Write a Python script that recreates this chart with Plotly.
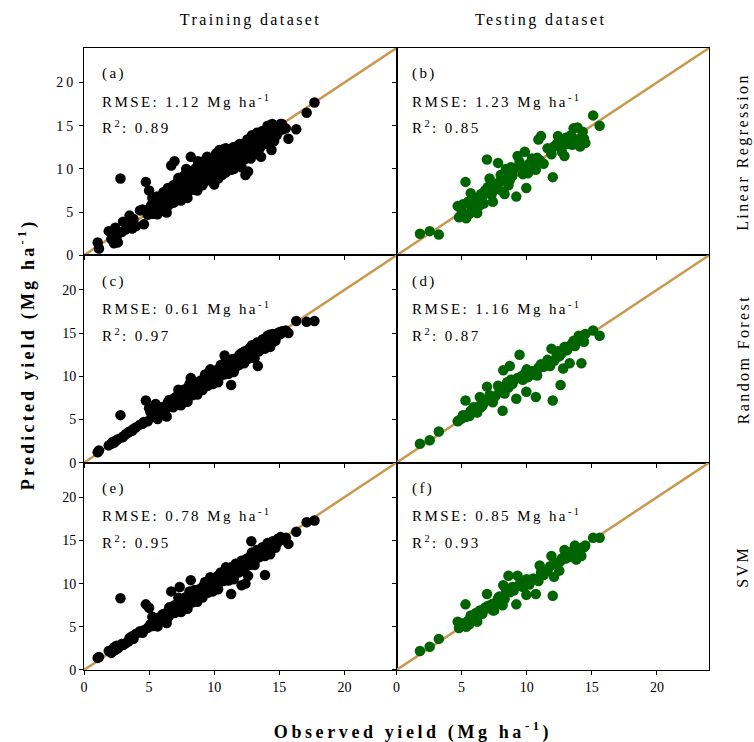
import plotly.graph_objects as go
from plotly.subplots import make_subplots

# ---------------- data ----------------
train_obs = [1.05, 1.15, 1.9, 2.1, 2.2, 2.3, 2.4, 2.5, 2.6, 2.8, 2.9, 3.0, 3.2, 3.4, 3.5, 3.7, 3.8, 4.0, 4.3, 4.5, 4.6, 4.75, 4.9, 5.0, 5.1,
             5.2, 5.3, 5.4, 5.5, 5.6, 5.7, 5.8, 5.9, 6.0, 6.1, 6.2, 6.3, 6.4, 6.5, 6.6,
             6.7, 6.75, 6.8, 6.9, 6.95,
             7.0, 7.05, 7.1, 7.2, 7.3, 7.35, 7.4, 7.5, 7.55, 7.6, 7.7, 7.75, 7.8, 7.9,
             8.0, 8.05, 8.1, 8.2, 8.25, 8.3, 8.4, 8.45, 8.5, 8.6, 8.65, 8.7, 8.8, 8.85, 8.9,
             9.0, 9.05, 9.1, 9.2, 9.25, 9.3, 9.4, 9.45, 9.5, 9.6, 9.65, 9.7, 9.8, 9.85, 9.9,
             10.0, 10.0,
             10.1, 10.2, 10.25, 10.3, 10.4, 10.45, 10.5, 10.6, 10.65, 10.7, 10.8, 10.85, 10.9, 11.0, 11.05, 11.1, 11.2, 11.3, 11.35, 11.4,
             11.5, 11.6, 11.65, 11.7, 11.8, 11.9, 12.0, 12.05, 12.1, 12.2, 12.25, 12.3, 12.4, 12.45, 12.5, 12.6, 12.65, 12.7, 12.8, 12.85,
             12.9, 13.0, 13.05, 13.1, 13.2, 13.3, 13.35, 13.4, 13.5, 13.6, 13.65, 13.7, 13.8, 13.9, 14.0, 14.1, 14.2, 14.3, 14.4, 14.5,
             14.6, 14.7, 14.8, 14.9, 15.0, 15.1, 15.3, 15.5, 15.7, 16.3, 17.1, 17.7,
             6.15, 6.45, 6.85, 7.15, 7.45, 7.65, 7.85, 8.15, 8.35, 8.55, 8.75, 8.95, 9.15, 9.35, 9.55, 9.75, 9.95, 10.15, 10.35, 10.55,
             10.75, 10.95, 11.15, 11.45, 11.75, 11.95, 12.15, 12.35, 12.55, 12.75, 12.95, 13.15, 13.45, 13.75, 14.05, 14.25, 14.45,
             5.25, 5.65, 6.05, 6.35, 6.55, 6.95, 7.25, 7.45, 7.7, 7.95, 8.1, 8.3, 8.5, 8.7, 8.9, 9.1, 9.3, 9.5, 9.7, 9.9,
             10.1, 10.3, 10.5, 10.7, 10.9, 11.1, 11.3, 11.5, 11.7, 11.9, 12.1, 12.3, 12.5, 12.7, 12.9, 13.1, 13.3, 13.5, 13.7, 13.9,
             14.1, 14.3, 14.5, 14.7, 15.2]

train_lr = [1.5, 0.8, 2.8, 1.9, 2.5, 1.4, 3.2, 2.1, 1.5, 8.9, 2.7, 3.9, 3.0, 3.6, 4.6, 3.1, 4.2, 3.4, 5.2, 5.3, 3.6, 8.5, 4.7, 7.5, 5.6,
            5.9, 4.8, 6.3, 5.4, 6.8, 4.9, 6.1, 5.7, 6.6, 7.3, 5.5, 6.2, 7.0, 5.8, 7.5,
            10.4, 6.6, 7.2, 6.1, 10.9,
            7.8, 6.8, 8.3, 7.1, 6.5, 8.9, 7.6, 8.1, 6.9, 8.6, 7.3, 9.3, 7.9, 8.4,
            7.4, 9.8, 8.7, 11.4, 8.0, 9.1, 7.7, 9.6, 8.4, 10.1, 8.9, 7.9, 9.4, 10.5, 8.6,
            9.9, 9.2, 8.3, 10.3, 9.0, 11.0, 9.6, 11.4, 8.8, 10.0, 9.3, 10.7, 9.7, 8.6, 10.4,
            8.2, 9.9,
            11.1, 9.5, 10.6, 9.9, 12.2, 10.2, 11.5, 9.3, 10.9, 10.0, 11.8, 10.5, 9.6, 11.3, 10.3, 12.0, 11.0, 9.9, 11.6, 10.7,
            12.3, 11.2, 10.5, 12.6, 11.5, 10.9, 12.1, 11.3, 10.2, 12.7, 11.8, 12.4, 9.3, 12.0, 12.9, 9.7, 11.6, 12.5, 11.2, 13.3,
            12.3, 12.9, 12.0, 13.6, 12.6, 14.0, 11.9, 13.1, 12.4, 11.4, 13.7, 12.8, 14.3, 13.3, 14.0, 12.9, 14.6, 13.6, 12.2, 14.2,
            13.2, 14.8, 13.9, 15.0, 14.4, 15.2, 14.6, 14.7, 13.5, 14.6, 16.5, 17.7,
            6.9, 7.8, 8.1, 7.7, 9.0, 8.8, 10.0, 9.4, 8.9, 9.8, 10.9, 9.5, 10.6, 10.1, 10.9, 11.1, 10.8, 11.8, 11.3, 10.8,
            12.3, 11.9, 11.4, 12.5, 11.9, 12.9, 12.3, 12.6, 13.4, 12.8, 13.8, 13.2, 14.2, 13.9, 14.5, 15.0, 15.2,
            6.65, 4.75, 6.65, 4.95, 7.55, 6.45, 8.95, 6.35, 8.5, 6.65, 9.6, 7.6, 9.6, 7.5, 9.4, 8.1, 10.6, 8.7, 11.3, 8.7,
            10.8, 8.9, 11.7, 10.1, 12.4, 10.0, 12.2, 10.0, 12.3, 11.0, 12.9, 11.1, 13.0, 11.9, 13.9, 11.7, 14.2, 12.9, 14.4, 12.9,
            15.0, 13.0, 15.1, 13.9, 15.2]

train_rf = [1.2, 1.4, 2.0, 2.2, 2.4, 2.3, 2.5, 2.6, 2.7, 5.5, 2.9, 3.0, 3.3, 3.5, 3.6, 3.7, 3.9, 4.1, 4.4, 4.5, 4.7, 7.2, 4.8, 6.3, 5.9,
            5.3, 5.6, 5.5, 6.8, 5.7, 5.9, 5.8, 6.1, 6.0, 6.3, 6.2, 6.5, 6.4, 6.7, 6.6,
            7.0, 6.9, 6.8, 7.1, 7.5,
            7.2, 7.0, 7.4, 7.3, 7.5, 8.2, 7.6, 7.4, 7.8, 7.9, 7.7, 8.5, 8.0, 7.8,
            8.1, 8.3, 8.2, 9.8, 8.4, 8.6, 8.3, 8.7, 8.9, 8.8, 9.0, 8.6, 9.1, 9.2, 8.9,
            9.3, 9.1, 8.8, 9.5, 9.3, 9.7, 9.6, 9.4, 9.8, 9.7, 9.9, 10.0, 9.8, 10.1, 10.2,
            9.9, 10.3,
            10.4, 10.1, 10.5, 10.7, 10.6, 10.3, 10.8, 10.5, 10.9, 11.0, 12.4, 10.8, 11.1, 11.2, 10.9, 11.4, 11.3, 9.0, 11.6, 11.5,
            11.8, 11.7, 11.5, 12.0, 11.9, 12.1, 12.2, 11.9, 12.3, 12.4, 12.5, 12.2, 12.0, 12.6, 12.8, 12.7, 12.9, 12.5, 13.0, 13.2,
            12.9, 13.1, 13.3, 13.2, 13.4, 13.5, 11.2, 13.6, 13.5, 13.7, 13.8, 13.6, 14.0, 13.9, 14.1, 14.2, 14.4, 14.3, 14.5, 14.6,
            14.7, 14.8, 14.6, 15.0, 15.1, 14.9, 15.2, 15.3, 15.0, 16.4, 16.3, 16.4,
            5.7, 7.0, 6.4, 7.7, 6.9, 8.2, 7.4, 8.7, 7.9, 9.1, 8.2, 9.5, 8.6, 9.9, 9.0, 10.3, 9.4, 10.7, 9.8, 11.1,
            10.2, 11.5, 10.6, 12.0, 11.2, 12.5, 11.6, 12.9, 12.0, 13.3, 12.4, 13.7, 12.9, 14.3, 13.5, 14.8, 13.9,
            6.25, 5.05, 6.45, 5.35, 7.25, 6.55, 8.45, 6.65, 8.3, 7.05, 9.1, 7.8, 9.3, 7.9, 9.3, 8.4, 10.2, 8.9, 10.8, 9.1,
            10.6, 9.3, 11.3, 10.3, 11.9, 10.3, 11.9, 10.5, 12.1, 11.3, 12.7, 11.5, 12.9, 12.1, 13.6, 12.1, 13.9, 13.1, 14.2, 13.2,
            14.7, 13.4, 14.9, 14.1, 15.2]

train_svm = [1.4, 1.5, 2.2, 2.0, 2.4, 2.6, 2.3, 2.8, 2.5, 8.3, 3.0, 2.9, 3.1, 3.3, 3.7, 3.9, 3.6, 4.2, 4.5, 4.3, 4.6, 7.6, 4.9, 7.2, 5.3,
             5.4, 5.1, 5.8, 5.5, 5.9, 6.0, 5.7, 6.2, 6.1, 5.9, 6.4, 6.3, 6.6, 6.2, 6.8,
             9.1, 6.7, 7.0, 6.9, 7.5,
             7.2, 6.9, 7.4, 7.6, 7.1, 9.6, 7.3, 7.7, 7.5, 8.0, 7.8, 8.4, 7.9, 8.2,
             7.8, 8.6, 8.3, 10.4, 8.1, 8.5, 8.7, 8.9, 8.4, 8.8, 9.0, 8.6, 9.3, 9.1, 9.2,
             8.9, 9.4, 9.0, 9.6, 9.3, 9.8, 9.5, 10.2, 9.4, 10.0, 9.7, 10.5, 9.9, 9.6, 10.3,
             9.8, 10.1,
             10.7, 10.0, 10.4, 10.9, 10.6, 10.2, 11.0, 10.3, 10.8, 10.6, 11.2, 11.0, 10.9, 11.3, 10.5, 11.6, 11.1, 8.8, 11.5, 11.8,
             11.4, 11.9, 12.3, 11.7, 12.0, 12.1, 11.8, 12.4, 9.8, 12.6, 12.2, 12.5, 10.0, 12.8, 12.4, 10.9, 12.7, 12.9, 13.0, 14.9,
             13.2, 13.1, 12.9, 13.4, 13.3, 13.6, 13.0, 13.5, 13.7, 13.3, 13.9, 14.0, 13.8, 11.0, 14.2, 14.0, 14.4, 14.5, 14.1, 14.7,
             14.3, 14.9, 14.6, 15.2, 15.0, 15.4, 15.1, 15.3, 14.6, 16.0, 17.1, 17.3,
             6.5, 6.7, 7.1, 7.5, 8.2, 7.9, 8.3, 8.6, 8.2, 8.9, 9.3, 9.1, 9.7, 9.3, 9.9, 10.2, 10.4, 10.5, 10.8, 10.5,
             11.1, 11.4, 11.2, 11.7, 12.1, 12.3, 12.0, 12.7, 12.9, 13.1, 13.3, 13.2, 13.8, 14.1, 14.3, 14.6, 14.8,
             6.15, 5.05, 6.45, 5.45, 7.25, 6.6, 8.35, 6.7, 8.25, 7.1, 9.1, 7.8, 9.25, 7.9, 9.25, 8.4, 10.2, 8.95, 10.75, 9.1,
             10.6, 9.35, 11.3, 10.3, 11.9, 10.35, 11.9, 10.5, 12.1, 11.3, 12.65, 11.5, 12.85, 12.15, 13.6, 12.15, 13.9, 13.1, 14.2, 13.2,
             14.7, 13.4, 14.9, 14.15, 15.2]

test_obs = [1.8, 2.55, 3.25, 4.7, 4.8, 5.0, 5.1, 5.3, 5.35, 5.5,
            5.6, 5.7, 5.8, 5.9, 6.0, 6.1, 6.2, 6.3, 6.4, 6.5,
            6.6, 6.7, 6.8, 6.95, 7.0, 7.15, 7.3, 7.4, 7.5, 7.6,
            7.8, 7.9, 8.0, 8.15, 8.2, 8.3, 8.4, 8.5, 8.6, 8.7,
            8.8, 8.9, 9.0, 9.2, 9.3, 9.45, 9.6, 9.7, 9.85, 9.97,
            10.0, 10.1, 10.2, 10.4, 10.5, 10.7, 10.8, 10.9, 11.0, 11.1,
            11.3, 11.6, 11.8, 11.9, 12.0, 12.1, 12.3, 12.4, 12.5, 12.6,
            12.7, 12.8, 12.9, 13.0, 13.1, 13.3, 13.4, 13.5, 13.6, 13.7,
            13.8, 13.9, 14.0, 14.1, 14.2, 14.3, 14.4, 14.5, 15.1, 15.6]

test_lr = [2.5, 2.8, 2.4, 5.7, 4.4, 5.2, 5.9, 8.5, 4.3, 6.2,
           4.8, 7.2, 5.5, 6.1, 5.6, 6.6, 4.9, 6.4, 5.8, 7.1,
           6.8, 6.0, 7.5, 11.1, 7.9, 8.9, 7.0, 6.2, 7.6, 8.2,
           10.7, 8.5, 9.3, 7.4, 9.0, 7.1, 10.0, 9.5, 8.1, 8.7,
           10.2, 9.2, 9.9, 6.8, 11.5, 10.8, 10.3, 9.4, 12.0, 7.8,
           10.1, 9.5, 10.6, 11.2, 10.4, 9.9, 11.3, 13.4, 11.0, 13.8,
           10.6, 12.4, 12.2, 11.7, 9.05, 12.6, 12.9, 13.8, 12.6, 13.0,
           12.0, 12.8, 11.5, 13.6, 12.9, 13.2, 13.9, 12.8, 14.7, 13.4,
           12.9, 14.8, 13.3, 12.6, 13.6, 14.3, 13.5, 13.0, 16.2, 15.0]

test_rf = [2.2, 2.6, 3.6, 4.8, 4.9, 5.1, 5.5, 7.2, 5.3, 5.6,
           5.4, 6.0, 5.8, 6.4, 5.9, 6.2, 5.8, 6.5, 7.6, 6.4,
           6.6, 6.9, 7.1, 8.8, 7.3, 7.8, 7.4, 7.0, 7.6, 7.7,
           8.9, 8.2, 8.4, 6.0, 10.7, 8.0, 8.9, 9.3, 8.7, 11.2,
           9.6, 9.1, 9.5, 7.4, 9.8, 12.5, 10.0, 9.6, 10.3, 8.2,
           10.8, 9.9, 10.4, 10.6, 10.2, 7.6, 10.1, 11.0, 11.0, 11.4,
           11.1, 11.9, 11.2, 13.2, 7.2, 11.8, 12.5, 12.9, 12.3, 9.0,
           12.7, 10.9, 13.4, 13.4, 13.0, 11.5, 13.6, 13.8, 14.1, 13.5,
           13.9, 14.2, 14.7, 14.3, 11.5, 14.4, 14.0, 14.9, 15.3, 14.7]

test_svm = [2.2, 2.7, 3.6, 5.6, 4.85, 5.2, 5.4, 7.6, 5.0, 5.7,
            5.3, 6.3, 5.9, 6.1, 5.7, 6.6, 5.6, 6.4, 6.9, 6.7,
            6.5, 7.0, 7.2, 8.8, 7.4, 7.3, 7.6, 6.9, 6.9, 7.8,
            8.3, 8.5, 8.0, 7.5, 9.8, 8.2, 9.0, 9.4, 10.9, 9.0,
            9.3, 9.6, 9.2, 7.6, 10.9, 9.9, 10.2, 9.6, 9.8, 8.7,
            10.5, 10.1, 9.9, 10.4, 10.6, 8.8, 10.5, 10.3, 12.1, 11.3,
            11.0, 11.5, 12.0, 13.2, 8.6, 10.8, 12.4, 12.3, 11.5, 12.6,
            12.9, 13.0, 13.9, 12.9, 13.4, 13.1, 13.6, 13.4, 13.9, 14.4,
            12.8, 14.0, 13.8, 14.1, 13.2, 14.2, 14.2, 14.4, 15.3, 15.3]

axis_range = [0, 24]
tick_vals = [0, 5, 10, 15, 20]
panel_labels = ["(a)", "(b)", "(c)", "(d)", "(e)", "(f)"]
rmse_vals = ["1.12", "1.23", "0.61", "1.16", "0.78", "0.85"]
r2_vals = ["0.89", "0.85", "0.97", "0.87", "0.95", "0.93"]
col_titles = ["Training dataset", "Testing dataset"]
row_titles = ["Linear Regression", "Random Forest", "SVM"]

# ---------------- figure ----------------
FONT = "Liberation Serif, Times New Roman, serif"
LINE_COLOR = "#C9974F"
TRAIN_COLOR = "#000000"
TEST_COLOR = "#006400"

fig = make_subplots(rows=3, cols=2, horizontal_spacing=0, vertical_spacing=0)

preds = [(train_lr, test_lr), (train_rf, test_rf), (train_svm, test_svm)]

for r in range(3):
    for c in range(2):
        obs = train_obs if c == 0 else test_obs
        pred = preds[r][c]
        fig.add_trace(go.Scatter(x=axis_range, y=axis_range, mode="lines",
                                 line=dict(color=LINE_COLOR, width=2.5),
                                 showlegend=False, hoverinfo="skip"),
                      row=r + 1, col=c + 1)
        fig.add_trace(go.Scatter(x=obs, y=pred, mode="markers",
                                 marker=dict(size=10.5, color=TRAIN_COLOR if c == 0 else TEST_COLOR,
                                             line=dict(width=0)),
                                 showlegend=False),
                      row=r + 1, col=c + 1)

for r in range(3):
    for c in range(2):
        fig.update_xaxes(range=axis_range, tickvals=tick_vals, ticks="outside", ticklen=4,
                         tickcolor="black", showline=True, linecolor="black", linewidth=1,
                         mirror=True, showgrid=False, zeroline=False,
                         showticklabels=(r == 2),
                         tickfont=dict(family=FONT, size=14, color="black"),
                         row=r + 1, col=c + 1)
        fig.update_yaxes(range=axis_range, tickvals=tick_vals, ticks="outside", ticklen=4,
                         tickcolor="black", showline=True, linecolor="black", linewidth=1,
                         mirror=True, showgrid=False, zeroline=False,
                         showticklabels=(c == 0),
                         tickfont=dict(family=FONT, size=14, color="black"),
                         row=r + 1, col=c + 1)

annotations = []
# 0: x title, 1: y title (bold)
annotations.append(dict(text="Observed yield (Mg ha<sup>-1</sup>)", x=0.526, y=-0.098,
                        xref="paper", yref="paper", showarrow=False,
                        xanchor="center", yanchor="middle",
                        font=dict(family=FONT, size=18, color="black", weight="bold")))
annotations.append(dict(text="Predicted yield (Mg ha<sup>-1</sup>)", x=-0.091, y=0.508,
                        xref="paper", yref="paper", showarrow=False, textangle=-90,
                        xanchor="center", yanchor="middle",
                        font=dict(family=FONT, size=18, color="black", weight="bold")))
# 2-3: column titles
for ct, xp in zip(col_titles, [0.267, 0.731]):
    annotations.append(dict(text=ct, x=xp, y=1.045, xref="paper", yref="paper",
                            showarrow=False, xanchor="center", yanchor="middle",
                            font=dict(family=FONT, size=16, color="black")))
# 4-6: row titles
for i, rt in enumerate(row_titles):
    yp = 1 - (i + 0.5) / 3
    annotations.append(dict(text=rt, x=1.054, y=yp, xref="paper", yref="paper",
                            showarrow=False, textangle=-90, xanchor="center", yanchor="middle",
                            font=dict(family=FONT, size=16, color="black")))
# 7+: panel texts
for k in range(6):
    c = k % 2
    ax = "" if k == 0 else str(k + 1)
    xt = 1.25 if c == 0 else 1.05
    for txt, yv in [(panel_labels[k], 21.0),
                    ("RMSE: " + rmse_vals[k] + " Mg ha<sup>-1</sup>", 17.9),
                    ("R<sup>2</sup>: " + r2_vals[k], 14.8)]:
        annotations.append(dict(text=txt, x=xt, y=yv, xref="x" + ax, yref="y" + ax,
                                showarrow=False, xanchor="left", yanchor="middle",
                                font=dict(family=FONT, size=15, color="black")))

fig.update_layout(width=754, height=742,
                  margin=dict(l=84, r=45, t=48, b=72),
                  paper_bgcolor="white", plot_bgcolor="white",
                  annotations=annotations, showlegend=False)

post = """
var gd = document.getElementById('{plot_id}');
var texts = Array.prototype.slice.call(gd.querySelectorAll('g.annotation text.annotation-text'));
var lefts = texts.map(function(t){ return t.getBBox().x; });
var s = document.createElement('style');
s.textContent = '.xtick text, .ytick text {letter-spacing: 3px;} '
  + '.annotation text {letter-spacing: 2.4px;} '
  + 'g.annotation[data-index="0"] text {letter-spacing: 3.6px;} '
  + 'g.annotation[data-index="1"] text {letter-spacing: 3.2px;}';
document.head.appendChild(s);
texts.forEach(function(t, i){
  var g = t.closest('g.annotation');
  var idx = +g.getAttribute('data-index');
  if (idx >= 7) {
    t.setAttribute('text-anchor', 'start');
    t.setAttribute('x', lefts[i]);
  }
});
"""

fig.write_html("out.html", post_script=post)
